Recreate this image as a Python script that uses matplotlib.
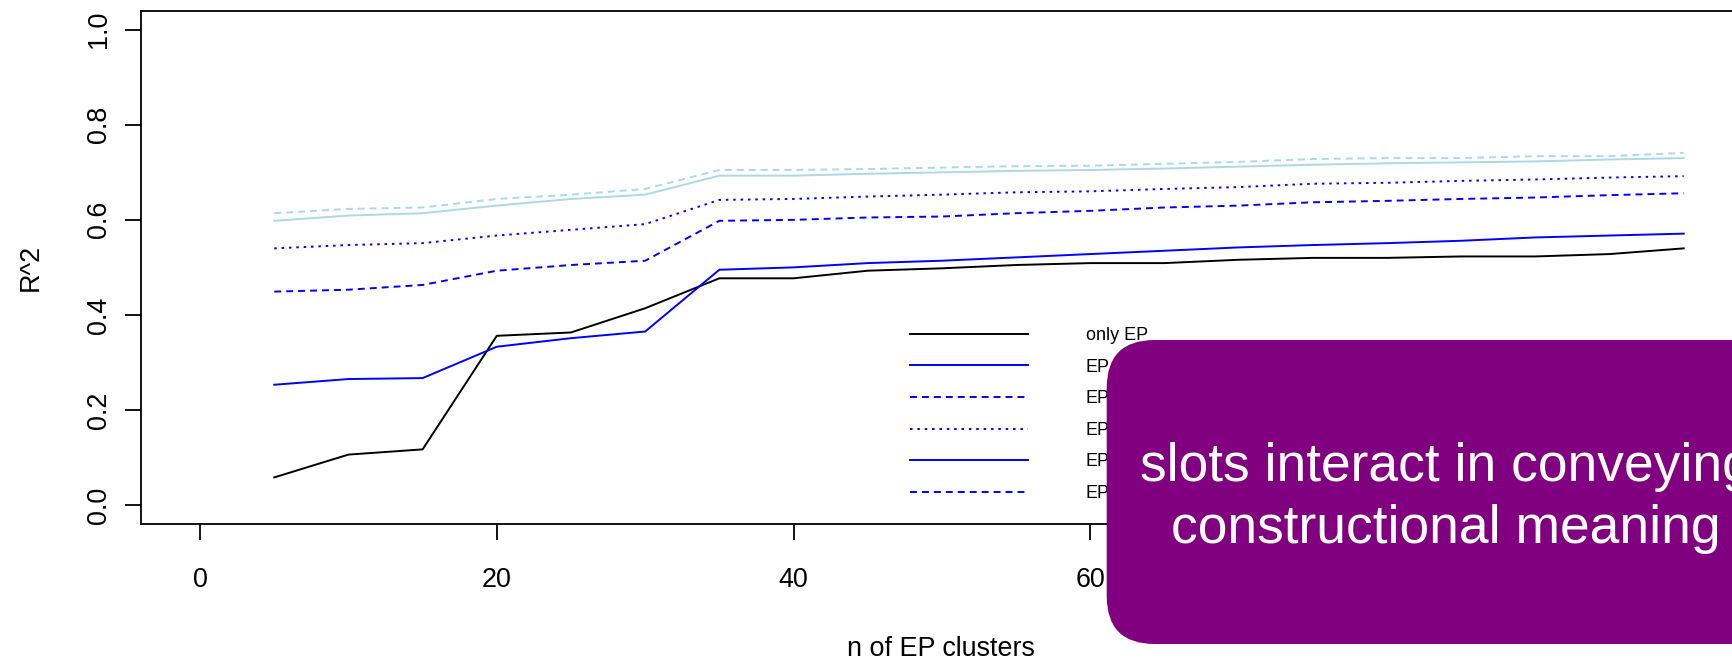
import matplotlib.pyplot as plt
from matplotlib.lines import Line2D
from matplotlib.patches import FancyBboxPatch

plt.rcParams['font.family'] = ['Liberation Sans', 'DejaVu Sans']
plt.rcParams['lines.scale_dashes'] = False

# data
n_clusters = [5, 10, 15, 20, 25, 30, 35, 40, 45, 50,
              55, 60, 65, 70, 75, 80, 85, 90, 95, 100]
only_ep = [0.058, 0.106, 0.117, 0.356, 0.363, 0.414, 0.477, 0.477, 0.493, 0.498,
           0.505, 0.509, 0.509, 0.516, 0.520, 0.520, 0.523, 0.523, 0.528, 0.540]
ep_b = [0.253, 0.265, 0.267, 0.333, 0.351, 0.365, 0.495, 0.500, 0.509, 0.514,
        0.521, 0.528, 0.535, 0.542, 0.547, 0.551, 0.556, 0.563, 0.567, 0.571]
ep_c = [0.449, 0.453, 0.463, 0.493, 0.505, 0.514, 0.598, 0.600, 0.605, 0.607,
        0.614, 0.619, 0.626, 0.630, 0.637, 0.640, 0.644, 0.647, 0.652, 0.656]
ep_d = [0.540, 0.547, 0.551, 0.567, 0.579, 0.591, 0.642, 0.644, 0.649, 0.653,
        0.658, 0.660, 0.665, 0.669, 0.676, 0.678, 0.682, 0.685, 0.689, 0.692]
ep_e = [0.598, 0.609, 0.614, 0.630, 0.644, 0.653, 0.693, 0.693, 0.697, 0.700,
        0.703, 0.705, 0.708, 0.712, 0.716, 0.719, 0.721, 0.723, 0.727, 0.730]
ep_f = [0.614, 0.623, 0.626, 0.644, 0.653, 0.665, 0.705, 0.705, 0.707, 0.710,
        0.713, 0.714, 0.718, 0.722, 0.728, 0.730, 0.730, 0.734, 0.734, 0.741]

legend_labels = ['only EP', 'EP', 'EP', 'EP', 'EP', 'EP']
x_ticks = [0, 20, 40, 60, 80, 100]
y_ticks = [0.0, 0.2, 0.4, 0.6, 0.8, 1.0]
y_ticklabels = ['0.0', '0.2', '0.4', '0.6', '0.8', '1.0']

dashed = (0, (5.0, 3.6))
dotted = (0, (1.8, 3.5))

fig = plt.figure(figsize=(17.33, 6.61), dpi=100)
ax = fig.add_axes([0.0812, 0.2073, 0.9246, 0.7764])

# (values, line colour, legend colour, style) - legend uses plain blue for the last two
series = [
    (only_ep, 'black', 'black', '-'),
    (ep_b, 'blue', 'blue', '-'),
    (ep_c, 'blue', 'blue', dashed),
    (ep_d, 'blue', 'blue', dotted),
    (ep_e, 'lightblue', 'blue', '-'),
    (ep_f, 'lightblue', 'blue', dashed),
]
handles = []
for vals, col, leg_col, ls in series:
    ax.plot(n_clusters, vals, color=col, linestyle=ls, linewidth=1.4,
            dash_capstyle='butt')
    handles.append(Line2D([], [], color=leg_col, linestyle=ls, linewidth=1.4,
                          dash_capstyle='butt'))

ax.set_xlim(-4, 104)
ax.set_ylim(-0.04, 1.04)
ax.set_xticks(x_ticks)
ax.set_yticks(y_ticks)
ax.set_yticklabels(y_ticklabels, rotation=90, va='center')
ax.tick_params(axis='both', direction='out', length=11.5, width=1.3,
               labelsize=19.4, color='black')
ax.tick_params(axis='x', pad=19.6)
ax.tick_params(axis='y', pad=9)
for sp in ax.spines.values():
    sp.set_linewidth(1.3)

ax.legend(handles, legend_labels, loc='upper left',
          bbox_to_anchor=(0.5251, 0.5053), bbox_transform=fig.transFigure,
          frameon=False, fontsize=13, handlelength=6.52, handletextpad=3.21,
          labelspacing=0.81, borderpad=0, borderaxespad=0)

fig.text(0.543, 0.00756, 'n of EP clusters', ha='center', va='baseline',
         fontsize=19.4)
fig.text(0.02175, 0.5961, 'R^2', ha='center', va='baseline', rotation=90,
         rotation_mode='anchor', fontsize=19.4)

# purple callout on top of the plot
box = FancyBboxPatch((11.067, 0.17), 7.0, 3.04,
                     boxstyle='round,pad=0,rounding_size=0.48',
                     transform=fig.dpi_scale_trans,
                     facecolor='#800080', edgecolor='none', zorder=5)
fig.add_artist(box)
fig.text(0.8344, 0.2728, 'slots interact in conveying', ha='center',
         va='baseline', fontsize=38.4, color='white', zorder=6)
fig.text(0.8344, 0.1780, 'constructional meaning', ha='center',
         va='baseline', fontsize=38.4, color='white', zorder=6)

fig.savefig('out.png', dpi=100)
